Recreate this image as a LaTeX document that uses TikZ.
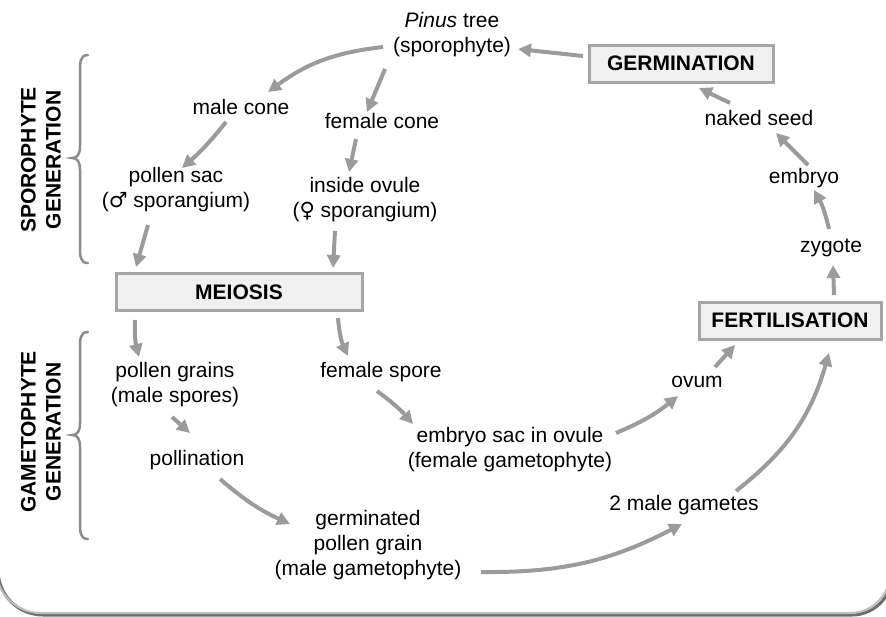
\documentclass[tikz,border=0pt]{standalone}
\usepackage{fontspec}
\setmainfont{Liberation Sans}
\newfontfamily\symfont{DejaVu Sans}
\usetikzlibrary{arrows.meta}
\definecolor{arr}{RGB}{155,155,155}
\definecolor{boxfill}{RGB}{240,240,240}
\definecolor{boxline}{RGB}{165,165,165}
\definecolor{bracec}{RGB}{140,140,140}
\definecolor{framec}{RGB}{190,190,190}
\definecolor{shadowc}{RGB}{110,110,110}
\begin{document}
\begin{tikzpicture}[x=1pt,y=-1pt,
  lbl/.style={font=\fontsize{21}{25}\selectfont, align=center, inner sep=0pt},
  side/.style={font=\fontsize{21}{25}\selectfont\bfseries, align=center, inner sep=0pt, rotate=90},
  stage/.style={draw=boxline, line width=3pt, fill=boxfill, font=\fontsize{21}{25}\selectfont\bfseries, minimum height=37pt, inner sep=0pt},
  arrow/.style={draw=arr, line width=4pt, -{Triangle[length=13pt,width=13pt]}},
  bracestyle/.style={draw=bracec, line width=2.5pt, line cap=round}
]
\useasboundingbox (0,0) rectangle (886,616);
% frame
\draw[shadowc, line width=3pt] (-2,570) .. controls (-2,595) and (18,615) .. (43,615) -- (852,615) .. controls (874,615) and (892,597) .. (892,575);
\draw[framec, line width=2pt] (-4,568) .. controls (-4,593) and (16,613) .. (41,613) -- (850,613) .. controls (872,613) and (890,595) .. (890,573);

% side labels and braces
\node[side] (sporo) at (41,160) {SPOROPHYTE\\GENERATION};
\node[side] (gameto) at (41,432) {GAMETOPHYTE\\GENERATION};
\draw[bracestyle] (88,55) .. controls (80,55) and (80,62) .. (80,72) -- (80,146) .. controls (80,155) and (77,158) .. (72,158) .. controls (77,158) and (80,161) .. (80,170) -- (80,246) .. controls (80,256) and (80,263) .. (88,263);
\draw[bracestyle] (88,332) .. controls (80,332) and (80,339) .. (80,349) -- (80,423) .. controls (80,432) and (77,435) .. (72,435) .. controls (77,435) and (80,438) .. (80,447) -- (80,522) .. controls (80,532) and (80,539) .. (88,539);

% stage boxes
\node[stage, minimum width=184pt] (germination) at (681,63.5) {GERMINATION};
\node[stage, minimum width=246pt] (meiosis) at (239,292) {MEIOSIS};
\node[stage, minimum width=182pt] (fert) at (790,320.5) {FERTILISATION};

% labels
\node[lbl] (pinus) at (452,35) {\textit{Pinus} tree\\(sporophyte)};
\node[lbl] (mcone) at (241,107) {male cone};
\node[lbl] (fcone) at (382,121) {female cone};
\node[lbl] (psac) at (176,190) {pollen sac\\({\symfont ♂} sporangium)};
\node[lbl] (ovule) at (365,200) {inside ovule\\({\symfont ♀} sporangium)};
\node[lbl] (pgrains) at (175,385) {pollen grains\\(male spores)};
\node[lbl] (fspore) at (381,372) {female spore};
\node[lbl] (pollination) at (197,460) {pollination};
\node[lbl] (germ) at (368,545) {germinated\\pollen grain\\(male gametophyte)};
\node[lbl] (esac) at (510,450) {embryo sac in ovule\\(female gametophyte)};
\node[lbl] (ovum) at (697,382) {ovum};
\node[lbl] (gametes) at (684,505) {2 male gametes};
\node[lbl] (zygote) at (831,248) {zygote};
\node[lbl] (embryo) at (804,178) {embryo};
\node[lbl] (seed) at (759,118) {naked seed};

% connectors
\draw[arrow] ([shift={(-69,12)}]pinus.center) to[bend right=15] ([shift={(27,-15)}]mcone.center);
\draw[arrow] ([shift={(-67,34)}]pinus.center) -- ([shift={(-15,-9)}]fcone.center);
\draw[arrow] ([shift={(-15,15)}]mcone.center) to[bend left=5] ([shift={(6,-22)}]psac.center);
\draw[arrow] ([shift={(-26,18)}]fcone.center) -- ([shift={(-16,-28)}]ovule.center);
\draw[arrow] ([shift={(-28,35)}]psac.center) -- ([shift={(-103,-25)}]meiosis.center);
\draw[arrow] ([shift={(-30,31)}]ovule.center) -- ([shift={(94,-24)}]meiosis.center);
\draw[arrow] ([shift={(-104,28)}]meiosis.center) to[bend right=8] ([shift={(-36,-28)}]pgrains.center);
\draw[arrow] ([shift={(99,26)}]meiosis.center) to[bend right=10] ([shift={(-33,-16)}]fspore.center);
\draw[arrow] ([shift={(-3,32)}]pgrains.center) -- ([shift={(-7,-27)}]pollination.center);
\draw[arrow] ([shift={(-4,19)}]fspore.center) to[bend left=6] ([shift={(-97,-26)}]esac.center);
\draw[arrow] ([shift={(23,19)}]pollination.center) to[bend right=8] ([shift={(-78,-21)}]germ.center);
\draw[arrow] ([shift={(113,27)}]germ.center) to[bend right=14] ([shift={(-2,19)}]gametes.center);
\draw[arrow] ([shift={(106,-17)}]esac.center) to[bend right=8] ([shift={(-19,14)}]ovum.center);
\draw[arrow] ([shift={(18,-15)}]ovum.center) -- ([shift={(-55,24.5)}]fert.center);
\draw[arrow] ([shift={(52,-14)}]gametes.center) to[bend right=18] ([shift={(39,32.5)}]fert.center);
\draw[arrow] ([shift={(44,-25.5)}]fert.center) -- ([shift={(2,17)}]zygote.center);
\draw[arrow] ([shift={(-2,-19)}]zygote.center) to[bend right=8] ([shift={(10,12)}]embryo.center);
\draw[arrow] ([shift={(4,-13)}]embryo.center) -- ([shift={(17,15)}]seed.center);
\draw[arrow] ([shift={(-29,-15)}]seed.center) -- ([shift={(18,24.5)}]germination.center);
\draw[arrow] ([shift={(-98,-7.5)}]germination.center) -- ([shift={(66,14)}]pinus.center);
\end{tikzpicture}
\end{document}
